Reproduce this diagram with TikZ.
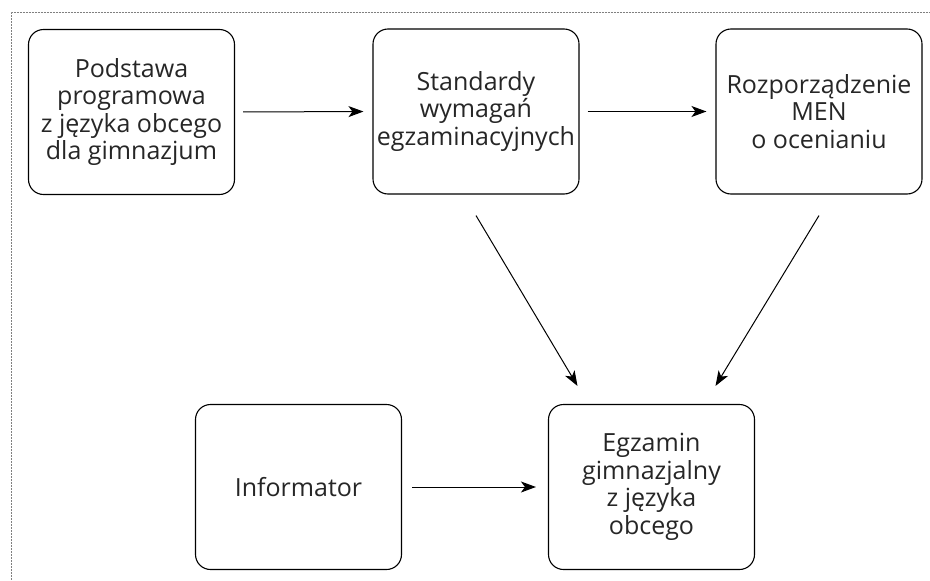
\documentclass[tikz,border=0pt]{standalone}
\usepackage{fontspec}
\setmainfont{Open Sans}
\usetikzlibrary{arrows.meta, positioning, calc}

\begin{document}
\begin{tikzpicture}[
    x=1pt, y=-1pt,
    docbox/.style={rectangle, draw, rounded corners=15pt, line width=1.1pt,
      minimum width=206pt, minimum height=165pt, align=center,
      font=\fontsize{25}{27.5}\selectfont, text=black!85},
    arrow/.style={-{Stealth[length=15pt, width=11pt, inset=4pt]}, line width=1pt},
    frame/.style={densely dotted, gray, line width=0.5pt}
  ]
  \useasboundingbox (0,0) rectangle (930,581);
  % dotted frame at top and left
  \draw[frame] (11,581) -- (11,12) -- (930,12);

  \node[docbox] (podstawa) at (131.5,112) {Podstawa\\programowa\\z języka obcego\\dla gimnazjum};
  \node[docbox] (standardy) at (476,111.5) {Standardy\\wymagań\\egzaminacyjnych};
  \node[docbox] (rozp) at (819,111.5) {Rozporządzenie\\MEN\\o ocenianiu};
  \node[docbox] (informator) at (298.5,487) {Informator};
  \node[docbox] (egzamin) at (651.5,487) {Egzamin\\gimnazjalny\\z języka\\obcego};

  % top row
  \draw[arrow, shorten <=8pt, shorten >=9pt] (podstawa.east) -- (standardy.west);
  \draw[arrow, shorten <=8pt, shorten >=9pt] (standardy.east) -- (rozp.west);
  % down to the exam
  \draw[arrow] ([yshift=-21pt] standardy.south) -- ([xshift=-74pt, yshift=18pt] egzamin.north);
  \draw[arrow] ([yshift=-21pt] rozp.south) -- ([xshift=64pt, yshift=18pt] egzamin.north);
  % bottom row
  \draw[arrow, shorten <=10pt, shorten >=12pt] (informator.east) -- (egzamin.west);
\end{tikzpicture}
\end{document}
